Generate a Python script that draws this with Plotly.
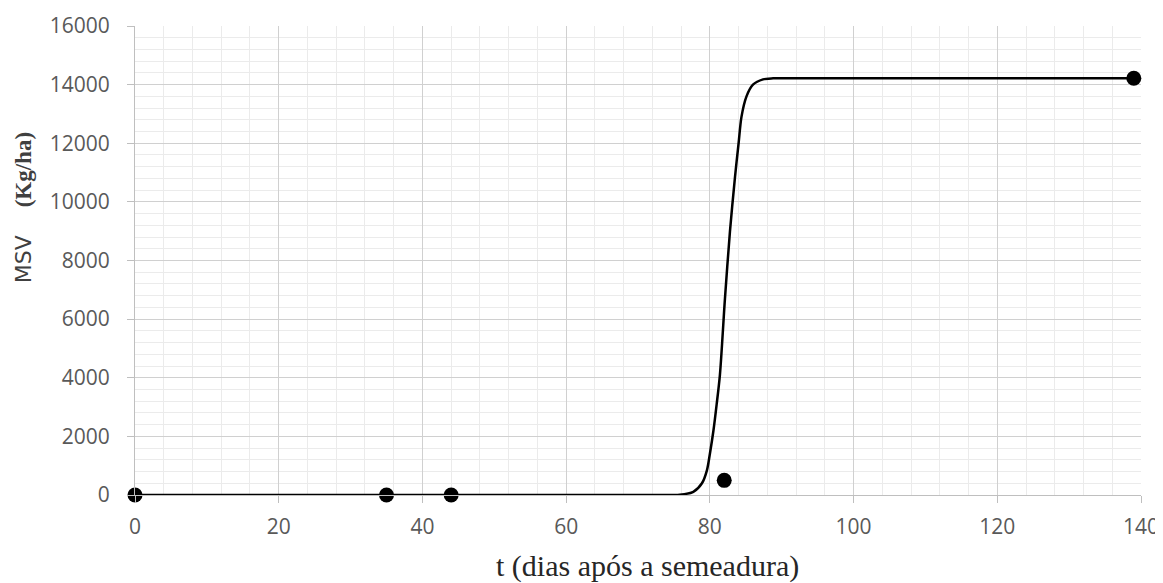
import plotly.graph_objects as go

# observed data points
obs_t = [0, 35, 44, 82, 139]
obs_msv = [0, 0, 0, 500, 14220]

# fitted curve
curve_t = [0, 72, 75.8, 77.7, 78.9, 79.6, 80.0, 80.5, 80.95, 81.4, 82.1, 82.8, 83.5, 84.0, 84.4, 85.1, 86.0, 87.4, 88.8, 92, 139]
curve_msv = [0, 0, 10, 110, 400, 850, 1400, 2200, 3100, 4100, 6700, 9000, 10850, 12000, 12900, 13600, 14000, 14180, 14215, 14220, 14220]

x_ticks = [0, 20, 40, 60, 80, 100, 120, 140]
y_ticks = [0, 2000, 4000, 6000, 8000, 10000, 12000, 14000, 16000]
x_ticktext = [str(v) for v in x_ticks]
y_ticktext = [str(v) for v in y_ticks]

fig = go.Figure()
fig.add_trace(go.Scatter(x=curve_t, y=curve_msv, mode="lines",
                         line=dict(color="black", width=2.5, shape="spline", smoothing=0.8),
                         showlegend=False, hoverinfo="skip"))
fig.add_trace(go.Scatter(x=obs_t, y=obs_msv, mode="markers",
                         marker=dict(color="black", size=15),
                         showlegend=False, cliponaxis=False))

tick_font = dict(family="Open Sans, Liberation Sans, sans-serif", size=21, color="#595959")

fig.update_layout(
    width=1155, height=575,
    margin=dict(l=127, r=22, t=18, b=88),
    plot_bgcolor="white", paper_bgcolor="white",
    font=dict(family="Open Sans, Liberation Sans, sans-serif", color="#595959", size=16),
    xaxis=dict(range=[0, 140], tickvals=x_ticks, ticktext=x_ticktext, automargin=False,
               showgrid=True, gridcolor="#d0d0d0", gridwidth=1,
               minor=dict(dtick=4, showgrid=True, gridcolor="#ebebeb", gridwidth=1),
               showline=True, linecolor="#bfbfbf", linewidth=1,
               ticks="outside", ticklen=7, tickcolor="#bfbfbf", ticklabelstandoff=6,
               zeroline=False, tickfont=tick_font),
    yaxis=dict(range=[0, 16000], tickvals=y_ticks, ticktext=y_ticktext, automargin=False,
               showgrid=True, gridcolor="#d0d0d0", gridwidth=1,
               minor=dict(dtick=400, showgrid=True, gridcolor="#ebebeb", gridwidth=1),
               showline=True, linecolor="#bfbfbf", linewidth=1,
               ticks="outside", ticklen=7, tickcolor="#bfbfbf", ticklabelstandoff=13,
               zeroline=False, tickfont=tick_font),
    annotations=[
        dict(text="t (dias após a semeadura)", xref="paper", yref="paper",
             x=0.509, y=-0.151, xanchor="center", yanchor="middle", showarrow=False,
             font=dict(family="Liberation Serif, Times New Roman, serif", size=30, color="#262626")),
        dict(text="MSV    <span style='font-family:Liberation Serif, Times New Roman, serif;font-size:23px'><b>(Kg/ha)</b></span>",
             xref="paper", yref="paper", x=-0.110, y=0.612, xanchor="center", yanchor="middle",
             textangle=-90, showarrow=False,
             font=dict(family="DejaVu Sans, Open Sans, sans-serif", size=22, color="#404040")),
    ],
)

fig.write_html("out.html")
